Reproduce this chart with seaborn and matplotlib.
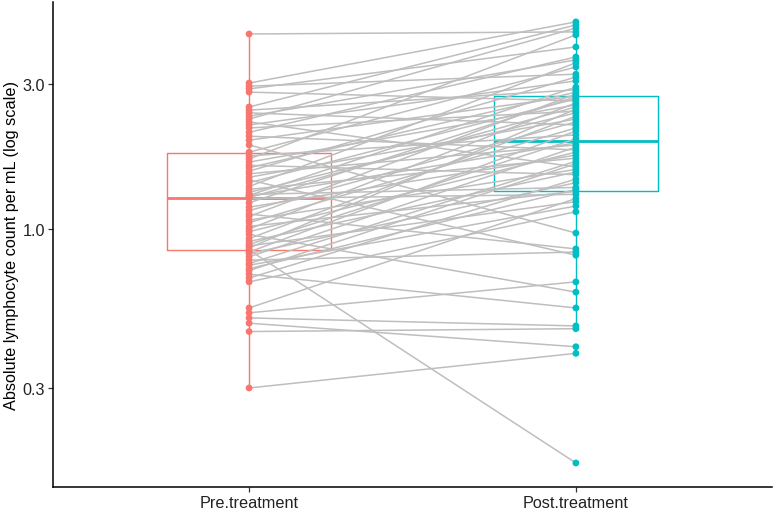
import numpy as np
import pandas as pd
import matplotlib
matplotlib.use("Agg")
import matplotlib.pyplot as plt
import seaborn as sns
from matplotlib.ticker import FixedLocator, FixedFormatter, NullLocator

categories = ["Pre.treatment", "Post.treatment"]
colors = ["#F8766D", "#00BFC4"]

pre_values = [4.38, 3.02, 2.95, 2.89, 2.82, 2.52, 2.46, 2.41, 2.35, 2.30,
              2.25, 2.20, 2.15, 2.08, 2.02, 1.96, 1.89, 1.79, 1.74, 1.70,
              1.66, 1.62, 1.59, 1.55, 1.52, 1.48, 1.45, 1.42, 1.38, 1.35,
              1.32, 1.30, 1.29, 1.28, 1.27, 1.26, 1.22, 1.18, 1.15, 1.12,
              1.10, 1.07, 1.05, 1.02, 1.00, 0.98, 0.96, 0.93, 0.91, 0.89,
              0.88, 0.866, 0.853, 0.84, 0.83, 0.81, 0.79, 0.77, 0.76, 0.74,
              0.73, 0.71, 0.69, 0.67, 0.55, 0.53, 0.51, 0.49, 0.46, 0.30]

post_values = [4.45, 4.80, 3.23, 3.97, 2.64, 4.69, 2.87, 2.20, 3.60, 4.58,
               1.60, 3.07, 2.44, 3.68, 1.82, 2.74, 0.97, 3.41, 2.04, 4.35,
               2.56, 1.51, 2.82, 3.16, 1.89, 2.30, 0.82, 2.68, 3.52, 1.71,
               2.41, 1.37, 2.93, 1.92, 2.52, 1.30, 2.72, 1.75, 2.25, 0.86,
               2.78, 1.57, 2.15, 1.33, 2.60, 1.79, 0.62, 2.35, 1.54, 1.98,
               1.23, 2.48, 0.17, 2.10, 1.42, 1.86, 0.84, 1.67, 1.19, 1.35,
               1.64, 0.55, 1.46, 1.14, 1.26, 0.67, 0.48, 0.41, 0.47, 0.39]

y_ticks = [0.3, 1.0, 3.0]
y_tick_labels = ["0.3", "1.0", "3.0"]
y_label = "Absolute lymphocyte count per mL (log scale)"

n = len(pre_values)
df = pd.DataFrame({
    "id": list(range(n)) * 2,
    "time": [categories[0]] * n + [categories[1]] * n,
    "value": pre_values + post_values,
})
df["pos"] = df["time"].map({c: i for i, c in enumerate(categories)})

sns.set_theme(style="ticks")
plt.rcParams["font.family"] = ["Liberation Sans", "DejaVu Sans"]

fig = plt.figure(figsize=(7.76, 5.10), dpi=100)
ax = fig.add_axes([0.0683, 0.0431, 0.9265, 0.951])

palette = dict(zip(categories, colors))

sns.boxplot(data=df, x="time", y="value", hue="time", order=categories,
            hue_order=categories, palette=palette, fill=False, width=0.5,
            showfliers=False, showcaps=False, linewidth=1.0, log_scale=True,
            medianprops={"linewidth": 2.0}, legend=False, ax=ax, zorder=1)

sns.lineplot(data=df, x="pos", y="value", units="id", estimator=None,
             color="#BEBEBE", linewidth=1.1, ax=ax, zorder=2, legend=False)

sns.stripplot(data=df, x="time", y="value", hue="time", order=categories,
              hue_order=categories, palette=palette, jitter=False, size=4.9,
              linewidth=0, legend=False, ax=ax, zorder=3)

ax.set_yscale("log")
ax.set_ylim(0.1417, 5.58)
ax.set_xlim(-0.6, 1.6)
ax.yaxis.set_major_locator(FixedLocator(y_ticks))
ax.yaxis.set_major_formatter(FixedFormatter(y_tick_labels))
ax.yaxis.set_minor_locator(NullLocator())
ax.set_xticks([0, 1])
ax.set_xticklabels(categories)

ax.set_xlabel("")
ax.set_ylabel(y_label, fontsize=11.7, color="black", labelpad=3)
ax.tick_params(axis="both", labelsize=11.7, labelcolor="#222222",
               color="#333333", length=3.5, width=0.9, pad=2)
for side in ["top", "right"]:
    ax.spines[side].set_visible(False)
for side in ["left", "bottom"]:
    ax.spines[side].set_color("black")
    ax.spines[side].set_linewidth(1.1)

fig.savefig("out.png", dpi=100)
